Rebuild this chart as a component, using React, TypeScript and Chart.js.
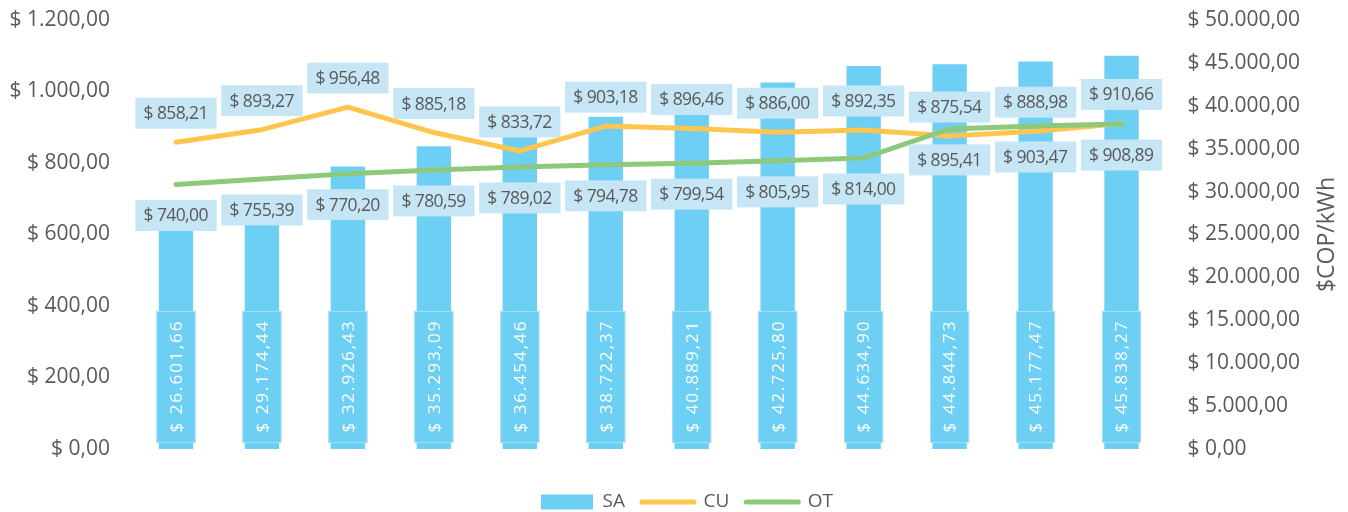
import { useEffect, useRef } from 'react';
import { Chart, registerables } from 'chart.js';

Chart.register(...registerables);

// ---- data ----
const categories = ['1', '2', '3', '4', '5', '6', '7', '8', '9', '10', '11', '12'];
const saValues = [26601.66, 29174.44, 32926.43, 35293.09, 36454.46, 38722.37, 40889.21, 42725.8, 44634.9, 44844.73, 45177.47, 45838.27];
const cuValues = [858.21, 893.27, 956.48, 885.18, 833.72, 903.18, 896.46, 886.0, 892.35, 875.54, 888.98, 910.66];
const otValues = [740.0, 755.39, 770.2, 780.59, 789.02, 794.78, 799.54, 805.95, 814.0, 895.41, 903.47, 908.89];
const seriesNames = ['SA', 'CU', 'OT'];
const leftAxis = [0, 1200, 200];
const rightAxis = [0, 50000, 5000];
const rightAxisTitle = '$COP/kWh';

// ---- styles ----
const BAR = '#6DCFF3';
const CU = '#FFC54D';
const OT = '#8DC97B';
const TEXT = '#595959';
const LABEL_BG = '#C6E6F6';
const FONT = '"Open Sans", "Noto Sans", sans-serif';

function money(v: number): string {
  const s = v.toFixed(2);
  const [i, d] = s.split('.');
  const ip = i.replace(/\B(?=(\d{3})+(?!\d))/g, '.');
  return '$ ' + ip + ',' + d;
}

const labelPlugin = {
  id: 'valueLabels',
  afterDatasetsDraw(chart: any) {
    const ctx: CanvasRenderingContext2D = chart.ctx;
    ctx.save();
    // bar labels (rotated, inside base)
    const barMeta = chart.getDatasetMeta(0);
    ctx.font = '17px ' + FONT;
    (ctx as any).letterSpacing = '2px';
    barMeta.data.forEach((el: any, i: number) => {
      const text = money(saValues[i]);
      const tw = ctx.measureText(text).width;
      const bh = tw + 19;
      const bw = 39;
      const cy = el.base - 6 - bh / 2;
      ctx.fillStyle = BAR;
      ctx.fillRect(el.x - bw / 2, cy - bh / 2, bw, bh);
      ctx.strokeStyle = 'rgba(170,225,247,0.9)';
      ctx.lineWidth = 1;
      ctx.strokeRect(el.x - bw / 2 + 0.5, cy - bh / 2 + 0.5, bw - 1, bh - 1);
      ctx.save();
      ctx.translate(el.x, cy);
      ctx.rotate(-Math.PI / 2);
      ctx.fillStyle = '#FFFFFF';
      ctx.textAlign = 'center';
      ctx.textBaseline = 'middle';
      ctx.fillText(text, 1, 1);
      ctx.restore();
    });

    // line labels
    ctx.font = '17.5px ' + FONT;
    (ctx as any).letterSpacing = '-0.6px';
    ctx.textAlign = 'center';
    ctx.textBaseline = 'middle';
    const drawLineLabels = (dsIndex: number, values: number[], offset: number) => {
      const meta = chart.getDatasetMeta(dsIndex);
      meta.data.forEach((pt: any, i: number) => {
        const text = money(values[i]);
        const tw = ctx.measureText(text).width;
        const w = tw + 17;
        const h = 31;
        const cx = pt.x;
        const cy = pt.y + offset;
        ctx.fillStyle = LABEL_BG;
        ctx.fillRect(cx - w / 2, cy - h / 2, w, h);
        ctx.fillStyle = TEXT;
        ctx.fillText(text, cx - 0.3, cy + 1);
      });
    };
    drawLineLabels(1, cuValues, -29);
    drawLineLabels(2, otValues, 31);
    (ctx as any).letterSpacing = '0px';
    ctx.restore();
  },
  afterDraw(chart: any) {
    const ctx: CanvasRenderingContext2D = chart.ctx;
    const area = chart.chartArea;
    ctx.save();
    ctx.font = '23px ' + FONT;
    ctx.fillStyle = TEXT;
    ctx.textAlign = 'center';
    ctx.textBaseline = 'middle';
    ctx.translate(1327, (area.top + area.bottom) / 2);
    ctx.rotate(-Math.PI / 2);
    ctx.fillText(rightAxisTitle, 0, 0);
    ctx.restore();
  },
};

export default function App() {
  const canvasRef = useRef<HTMLCanvasElement | null>(null);

  useEffect(() => {
    if (!canvasRef.current) return;
    Chart.defaults.font.family = FONT;
    const chart = new Chart(canvasRef.current, {
      type: 'bar',
      data: {
        labels: categories,
        datasets: [
          {
            type: 'bar',
            label: seriesNames[0],
            data: saValues,
            yAxisID: 'y1',
            backgroundColor: BAR,
            borderWidth: 0,
            barPercentage: 0.4,
            categoryPercentage: 1,
            order: 3,
          },
          {
            type: 'line',
            label: seriesNames[1],
            data: cuValues,
            yAxisID: 'y',
            borderColor: CU,
            backgroundColor: CU,
            borderWidth: 5,
            pointRadius: 0,
            tension: 0,
            borderCapStyle: 'round',
            borderJoinStyle: 'round',
            order: 2,
          },
          {
            type: 'line',
            label: seriesNames[2],
            data: otValues,
            yAxisID: 'y',
            borderColor: OT,
            backgroundColor: OT,
            borderWidth: 5,
            pointRadius: 0,
            tension: 0,
            borderCapStyle: 'round',
            borderJoinStyle: 'round',
            order: 1,
          },
        ] as any,
      },
      options: {
        animation: false,
        responsive: true,
        maintainAspectRatio: false,
        layout: { padding: { top: 20, left: 0, right: -26, bottom: -9.5 } },
        plugins: {
          tooltip: { enabled: false },
          legend: {
            position: 'bottom',
            labels: {
              usePointStyle: true,
              pointStyleWidth: 52,
              boxHeight: 15,
              padding: 17,
              color: TEXT,
              font: { size: 19, family: FONT },
              generateLabels: () => [
                { text: seriesNames[0], fillStyle: BAR, strokeStyle: BAR, lineWidth: 0, pointStyle: 'rect', datasetIndex: 0, hidden: false, fontColor: TEXT },
                { text: seriesNames[1], fillStyle: CU, strokeStyle: CU, lineWidth: 5, lineCap: 'round', pointStyle: 'line', datasetIndex: 1, hidden: false, fontColor: TEXT },
                { text: seriesNames[2], fillStyle: OT, strokeStyle: OT, lineWidth: 5, lineCap: 'round', pointStyle: 'line', datasetIndex: 2, hidden: false, fontColor: TEXT },
              ] as any,
            },
          },
        },
        scales: {
          x: {
            offset: true,
            grid: { display: false, drawTicks: false },
            border: { display: false },
            ticks: { display: false },
            afterFit: (s: any) => { s.height = 26.5; },
          },
          y: {
            position: 'left',
            min: leftAxis[0],
            max: leftAxis[1],
            grid: { display: false, drawTicks: false },
            border: { display: false },
            ticks: {
              stepSize: leftAxis[2],
              padding: 23,
              color: TEXT,
              font: { size: 21, family: FONT },
              callback: (v: any) => money(Number(v)),
            },
            afterFit: (s: any) => { s.width = 133; s.paddingTop = 0; s.paddingBottom = 0; },
          },
          y1: {
            position: 'right',
            min: rightAxis[0],
            max: rightAxis[1],
            grid: { display: false, drawTicks: false },
            border: { display: false },
            ticks: {
              stepSize: rightAxis[2],
              padding: 23,
              color: TEXT,
              font: { size: 21, family: FONT },
              callback: (v: any) => money(Number(v)),
            },
            afterFit: (s: any) => { s.width = 209.5; s.paddingTop = 0; s.paddingBottom = 0; },
          },
        },
      } as any,
      plugins: [labelPlugin],
    });
    return () => chart.destroy();
  }, []);

  return (
    <div style={{ position: 'fixed', left: 0, top: 0, width: 1348, height: 512 }}>
      <canvas ref={canvasRef} />
    </div>
  );
}
